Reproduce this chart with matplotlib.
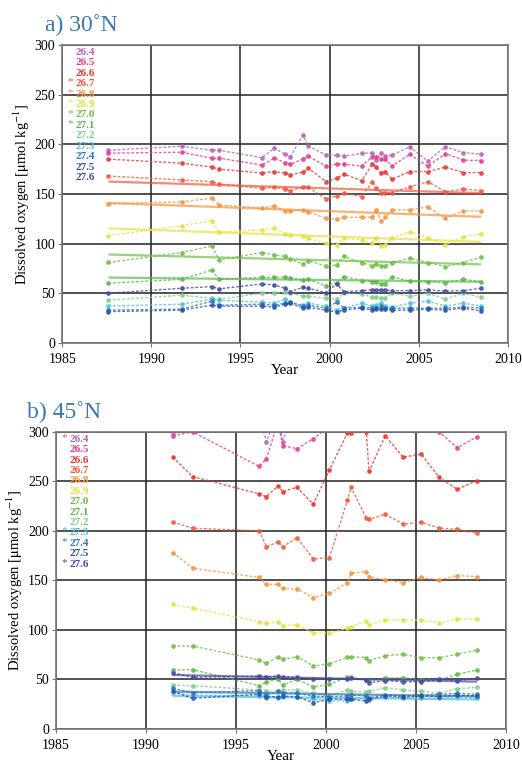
import numpy as np
import matplotlib
matplotlib.use('Agg')
import matplotlib.pyplot as plt

plt.rcParams['font.family'] = ['Liberation Serif', 'DejaVu Serif']
plt.rcParams['mathtext.fontset'] = 'stix'

# density classes and their colours
sigma = ['26.4', '26.5', '26.6', '26.7', '26.8', '26.9', '27.0',
         '27.1', '27.2', '27.3', '27.4', '27.5', '27.6']
colors = ['#b366b8', '#ea3a8c', '#e9352f', '#f1573b', '#f7923b', '#e6e13e',
          '#6fbe45', '#5ab849', '#7dce8c', '#4cc2d6', '#2f72c0', '#2a54a6', '#4747a8']

# ---- panel a: 30N ----
years_a = [1987.6, 1991.7, 1993.4, 1993.8, 1996.2, 1996.9, 1997.5, 1997.8,
           1998.5, 1998.8, 1999.8, 2000.4, 2000.8, 2001.8, 2002.4, 2002.6,
           2002.9, 2003.1, 2003.5, 2004.5, 2005.5, 2006.5, 2007.5, 2008.5]
a264 = [194, 198, 194, 194, 186.5, 196, 190, 187.5, 209, 198.6, 189, 189,
        188, 191, 191, 184, 191, 188, 189, 197.6, 183, 197.6, 191.6, 190]
a265 = [191, 192, 186, 186, 179, 186, 181.5, 180, 185, 188, 178, 180,
        180, 178, 187.6, 187.6, 185, 185, 178, 190, 178, 190.6, 184, 183.6]
a266 = [185, 181, 177, 175, 171, 172.5, 171, 169, 172, 176, 162.4, 165.8,
        170, 163.4, 180, 177.5, 170.8, 172.5, 164.8, 172.5, 172.5, 177, 171.5, 171.5]
a267 = [168, 164, 162.4, 160, 155.7, 156.7, 154.7, 153.3, 157, 156.7, 145, 148,
        150.7, 147.3, 162.4, 155.7, 151.3, 151.3, 151.3, 157, 162.4, 152.3, 155, 153.3]
a268 = [140, 142, 145.7, 139, 135.6, 138, 133, 133, 134, 132, 125.5, 124.5,
        126.5, 126.5, 126.5, 134, 123, 126.5, 134, 134, 137, 125.5, 133, 133]
a269 = [108, 118, 123, 111.5, 114, 115.5, 109.7, 108.7, 108, 105.4, 100.3, 98.7,
        105.4, 103.7, 100.3, 106, 98, 98.7, 106, 112, 106, 98.7, 107, 109.7]
a270 = [81, 91, 97.6, 83.6, 91, 88.6, 87, 84.3, 79.5, 82.9, 77.5, 78.5,
        87, 80.9, 77.5, 79.5, 77.5, 77.5, 80.9, 85.3, 80.9, 76.8, 80.9, 86.3]
a271 = [60, 64, 73.5, 64, 66, 66, 66, 65, 63.4, 64, 57.4, 60.7,
        66.7, 62.7, 61.7, 61.7, 59.4, 59.4, 66.7, 62, 61.7, 60.7, 64, 61.7]
a272 = [43, 48, 45, 44, 50, 50, 51, 50, 47, 47, 45, 44,
        50, 49, 46, 46, 45, 45, 50, 47, 50, 44, 50, 46]
a273 = [37, 39, 44, 43, 41, 40, 44, 41, 38, 40, 37, 33,
        35, 40, 37, 38, 40, 37, 36, 40, 42, 37, 40, 37]
a274 = [33, 34, 42, 38, 39, 38, 40, 41, 37, 38, 35, 41,
        35, 36, 35, 34, 37, 35, 35, 35, 35, 35, 36, 35]
a275 = [31.5, 33, 38, 37, 37, 36, 39, 40, 35, 36, 33, 31,
        33, 35, 33, 35, 34, 34, 33, 33, 34, 33, 35, 32]
a276 = [50, 55, 56.7, 54.4, 59.4, 58.4, 55, 51.6, 56, 55, 50.6, 59.4,
        51.6, 52.6, 53.4, 53.4, 53.4, 53.4, 52.6, 52.6, 53.4, 52.3, 52.6, 55]
trend_a = ['26.7', '26.8', '26.9', '27.0', '27.1']

# ---- panel b: 45N ----
years_b = [1991.5, 1992.6, 1996.3, 1996.7, 1997.35, 1997.6, 1998.4, 1999.3,
           2000.2, 2001.2, 2001.4, 2002.25, 2002.4, 2003.3, 2004.3, 2005.3,
           2006.3, 2007.3, 2008.4]
b264 = [299, 325, 315, 290, 320, 290, 330, 335, 340, 345, 345, 340, 340,
        335, 330, 330, 320, 320, 315]
b265 = [296, 300, 265, 273, 310, 286, 283, 293, 305, 320, 325, 330, 330,
        330, 325, 315, 300, 284, 295]
b266 = [274.4, 254.8, 237.4, 234.6, 245.5, 239.7, 244, 227, 261.6, 299, 299,
        299.5, 260, 296, 274.4, 277.5, 254, 242, 250.8]
b267 = [208.8, 202.7, 200, 184, 189, 184, 193, 171.7, 173, 231, 244, 212.8,
        211.8, 216.8, 206.7, 208.8, 202.7, 201.7, 197.6]
b268 = [178, 162.3, 153, 146, 146, 142, 141.4, 132.6, 137, 147.8, 157, 159,
        153.8, 150.5, 147.8, 153, 150.5, 154.9, 153.8]
b269 = [126, 122, 108.4, 106.8, 108.4, 104.4, 105, 97.3, 96.6, 101.7, 103.4,
        109, 105, 110, 110, 110, 107, 111, 111]
b270 = [83.8, 83.8, 69.7, 66.3, 73, 70.4, 73, 63.6, 65.7, 72.4, 73, 72, 69,
        74, 75.4, 72, 72, 75.4, 79.8]
b271 = [59.6, 59.9, 43.7, 47.8, 50.5, 44.4, 50, 42.7, 45, 52.8, 52, 49.5, 49,
        51.6, 51.6, 49.5, 49.5, 55.2, 59.6]
b272 = [44.4, 43.7, 39.4, 38, 38.7, 39.4, 39.4, 36, 33.3, 39.4, 38, 37.4, 38,
        41.7, 39.4, 38, 36, 40.7, 42]
b273 = [36, 34.3, 33.3, 31, 31.6, 32.6, 32, 30, 28.3, 28.3, 30, 31, 29.7,
        32, 31, 31, 31, 32.6, 31]
b274 = [41, 36.7, 38.7, 34.3, 38, 36.7, 36, 33.3, 32.6, 33.3, 34.3, 33.3,
        31.6, 34.3, 33.3, 34.3, 35, 36, 35]
b275 = [38, 31, 35, 32.6, 32.6, 33.3, 32.6, 26.6, 30, 30, 30, 28.3, 30,
        33.3, 32, 33.3, 32.6, 34.3, 33.3]
b276 = [56.9, 52.2, 53.5, 52.9, 53.5, 52.9, 52.2, 50.5, 50.2, 50.2, 51.2,
        49.5, 46.8, 48.8, 47.8, 47.8, 50.2, 48.8, 51.2]
trend_b = ['26.4', '27.3', '27.4', '27.6']

series_a = [a264, a265, a266, a267, a268, a269, a270, a271, a272, a273, a274, a275, a276]
series_b = [b264, b265, b266, b267, b268, b269, b270, b271, b272, b273, b274, b275, b276]


def panel(ax, years, series, trends, title, title_x):
    yrs = np.array(years)
    for lab, col, vals in zip(sigma, colors, series):
        ax.plot(yrs, vals, color=col, lw=1.0, dashes=(2, 1.3), alpha=0.8,
                marker='o', ms=2.4, mec=col, mfc=col)
        if lab in trends:
            p = np.polyfit(yrs, vals, 1)
            ax.plot(yrs[[0, -1]], np.polyval(p, yrs[[0, -1]]), color=col,
                    lw=1.6, alpha=0.7, solid_capstyle='butt')
    # density labels
    for i, (lab, col) in enumerate(zip(sigma, colors)):
        yy = 0.975 - i * 0.035
        ax.text(0.03, yy, lab, color=col, fontsize=8, fontweight='bold',
                transform=ax.transAxes, va='center', ha='left')
        if lab in trends:
            ax.text(0.012, yy + 0.006, '*', color=col, fontsize=8,
                    transform=ax.transAxes, va='center', ha='left')
    ax.set_xlim(1985, 2010)
    ax.set_ylim(0, 300)
    ax.set_xticks(range(1985, 2011, 5))
    ax.set_yticks(range(0, 301, 50))
    ax.grid(True, color='#222222', lw=1.1)
    ax.set_axisbelow(True)
    for s in ax.spines.values():
        s.set_color('#777777')
        s.set_linewidth(1.2)
    ax.tick_params(labelsize=10, length=3, color='#777777')
    ax.tick_params(axis='x', pad=4)
    ax.tick_params(axis='y', pad=2)
    ax.set_xlabel('Year', fontsize=11, labelpad=-1)
    ax.set_ylabel(r'Dissolved oxygen [$\mathrm{\mu}$mol kg$^{-1}$]', fontsize=10.5, labelpad=2)
    fig.text(title_x, ax.get_position().y1 + 0.012, title, color='#3b78b4',
             fontsize=17, ha='left', va='bottom')


fig = plt.figure(figsize=(5.22, 7.62), dpi=100)
ax1 = fig.add_axes([0.119, 0.550, 0.854, 0.391])
ax2 = fig.add_axes([0.107, 0.0433, 0.862, 0.390])
panel(ax1, years_a, series_a, trend_a, 'a) 30˚N', 0.086)
panel(ax2, years_b, series_b, trend_b, 'b) 45˚N', 0.052)
fig.savefig('out.png', dpi=100)
